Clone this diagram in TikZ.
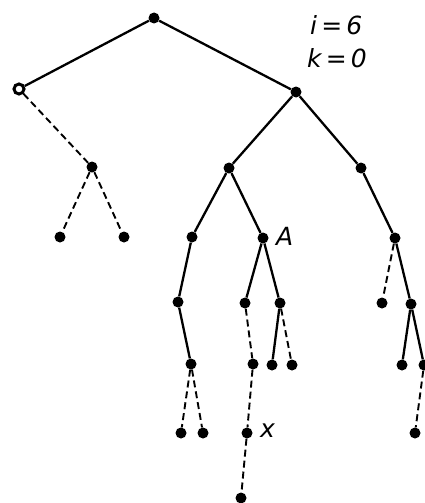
\documentclass[tikz,border=0pt]{standalone}
\usepackage{fontspec}
\setsansfont{DejaVu Sans}
\begin{document}
\begin{tikzpicture}[x=1pt,y=-1pt,
  dot/.style={circle,fill=black,inner sep=0pt,minimum size=11pt},
  odot/.style={circle,draw=black,fill=white,line width=3pt,inner sep=0pt,minimum size=10pt},
  solidedge/.style={line width=2.3pt},
  dashedge/.style={line width=1.9pt,dash pattern=on 7pt off 4pt},
  lab/.style={font=\sffamily\itshape\fontsize{25}{27}\selectfont,inner sep=0pt}]
\useasboundingbox (0,0) rectangle (425,503);
\node[dot] (root) at (154,18) {};
\node[odot] (L) at (19,89) {};
\node[dot] (R) at (296,92) {};
\node[dot] (LL) at (92,167) {};
\node[dot] (LLa) at (60,237) {};
\node[dot] (LLb) at (124,237) {};
\node[dot] (RA) at (229,168) {};
\node[dot] (RB) at (361,168) {};
\node[dot] (a1) at (192,237) {};
\node[dot] (A) at (263,238) {};
\node[dot] (b1) at (395,238) {};
\node[dot] (a2) at (178,302) {};
\node[dot] (a3) at (191,364) {};
\node[dot] (a4) at (181,433) {};
\node[dot] (a5) at (203,433) {};
\node[dot] (c1) at (245,303) {};
\node[dot] (c2) at (280,303) {};
\node[dot] (c3) at (253,364) {};
\node[dot] (x) at (247,433) {};
\node[dot] (c5) at (241,498) {};
\node[dot] (c6) at (272,365) {};
\node[dot] (c7) at (292,365) {};
\node[dot] (b2) at (382,303) {};
\node[dot] (b3) at (411,304) {};
\node[dot] (b4) at (402,365) {};
\node[dot] (b5) at (424,365) {};
\node[dot] (b6) at (415,433) {};
\draw[solidedge] (root) -- (L);
\draw[solidedge] (root) -- (R);
\draw[dashedge] (L) -- (LL);
\draw[dashedge] (LL) -- (LLa);
\draw[dashedge] (LL) -- (LLb);
\draw[solidedge] (R) -- (RA);
\draw[solidedge] (R) -- (RB);
\draw[solidedge] (RA) -- (a1);
\draw[solidedge] (RA) -- (A);
\draw[solidedge] (RB) -- (b1);
\draw[solidedge] (a1) -- (a2);
\draw[solidedge] (a2) -- (a3);
\draw[dashedge] (a3) -- (a4);
\draw[dashedge] (a3) -- (a5);
\draw[solidedge] (A) -- (c1);
\draw[solidedge] (A) -- (c2);
\draw[dashedge] (c1) -- (c3);
\draw[dashedge] (c3) -- (x);
\draw[dashedge] (x) -- (c5);
\draw[solidedge] (c2) -- (c6);
\draw[dashedge] (c2) -- (c7);
\draw[dashedge] (b1) -- (b2);
\draw[solidedge] (b1) -- (b3);
\draw[solidedge] (b3) -- (b4);
\draw[solidedge] (b3) -- (b5);
\draw[dashedge] (b5) -- (b6);
\node[lab,anchor=west] (Alab) at (276,236) {A};
\node[lab,anchor=west] (xlab) at (260,431) {x};
\node[lab,anchor=west] (ilab) at (310,25) {i\,=\,6};
\node[lab,anchor=west] (klab) at (307,58) {k\,=\,0};
\end{tikzpicture}
\end{document}
